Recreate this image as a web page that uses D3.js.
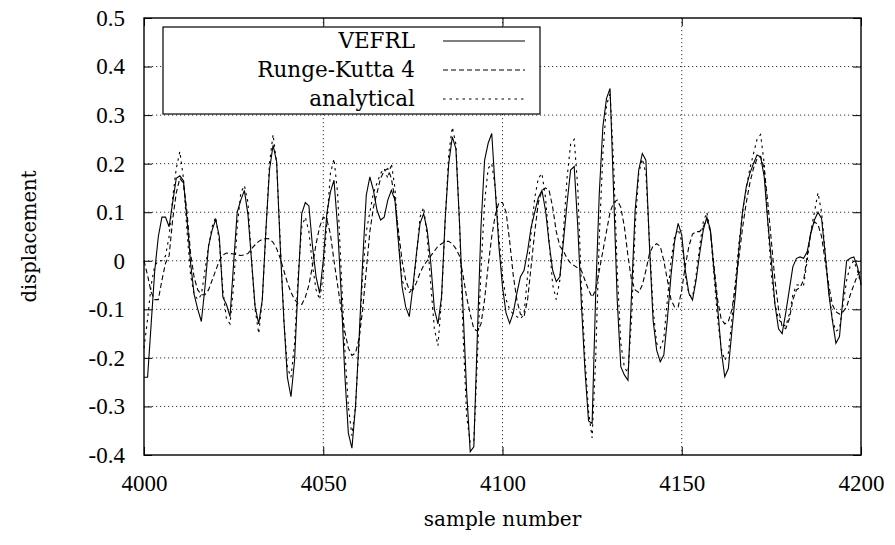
<!DOCTYPE html>
<html>
<head>
<meta charset="utf-8">
<script src="https://cdn.jsdelivr.net/npm/d3@7"></script>
<style>
  body { margin: 0; background: #fff; }
  svg { display: block; }
  .line { fill: none; stroke: #000; stroke-width: 1.1; }
  .grid line { stroke: #000; stroke-width: 0.8; stroke-dasharray: 1.2, 2.8; }
  .axis path { display: none; }
  .axis line { stroke: #000; stroke-width: 1; }
  .tick-font { font-family: "Liberation Serif", serif; font-size: 23px; }
  .label-font { font-family: "DejaVu Serif", serif; }
</style>
</head>
<body>
<div class="container"></div>
<script>
// sample numbers run from 4000, one value per sample
const START = 4000;
const xTicks = [4000, 4050, 4100, 4150, 4200];
const yTicks = [-0.4, -0.3, -0.2, -0.1, 0, 0.1, 0.2, 0.3, 0.4, 0.5];
const seriesNames = ['VEFRL', 'Runge-Kutta 4', 'analytical'];

const vefrl = [
  -0.24, -0.24, -0.13, -0.02, 0.05, 0.09, 0.09, 0.07, 0.12, 0.17,
  0.175, 0.165, 0.085, -0.005, -0.07, -0.1, -0.125, -0.055, 0.03, 0.063,
  0.085, 0.05, -0.075, -0.09, -0.115, -0.005, 0.1, 0.125, 0.145, 0.095,
  0.0, -0.095, -0.13, -0.08, 0.063, 0.187, 0.238, 0.204, 0.03, -0.12,
  -0.24, -0.28, -0.205, -0.047, 0.097, 0.12, 0.113, 0.03, -0.033, -0.067,
  0.0, 0.097, 0.142, 0.166, 0.07, -0.067, -0.232, -0.355, -0.386, -0.3,
  -0.16, 0.0, 0.135, 0.173, 0.145, 0.104, 0.084, 0.09, 0.125, 0.145,
  0.125, 0.036, -0.054, -0.095, -0.115, -0.054, 0.015, 0.077, 0.097, 0.063,
  -0.005, -0.1, -0.13, -0.074, 0.084, 0.2, 0.255, 0.231, 0.08, -0.1,
  -0.27, -0.393, -0.383, -0.15, 0.07, 0.207, 0.242, 0.262, 0.145, 0.03,
  -0.054, -0.108, -0.129, -0.108, -0.067, -0.033, -0.02, 0.02, 0.07, 0.1,
  0.13, 0.145, 0.104, 0.036, -0.02, -0.043, -0.033, 0.04, 0.118, 0.187,
  0.194, 0.07, -0.088, -0.225, -0.33, -0.335, -0.067, 0.139, 0.276, 0.334,
  0.355, 0.139, -0.081, -0.218, -0.235, -0.246, -0.067, 0.104, 0.187, 0.221,
  0.207, 0.03, -0.122, -0.184, -0.208, -0.194, -0.12, -0.03, 0.04, 0.077,
  0.053, -0.02, -0.067, -0.081, -0.04, 0.015, 0.063, 0.09, 0.063, -0.02,
  -0.095, -0.184, -0.239, -0.222, -0.143, -0.067, 0.029, 0.104, 0.152, 0.18,
  0.2, 0.218, 0.214, 0.173, 0.08, 0.0, -0.09, -0.14, -0.15, -0.108,
  -0.06, -0.012, 0.005, 0.008, 0.005, 0.019, 0.056, 0.084, 0.1, 0.087,
  0.015, -0.067, -0.122, -0.17, -0.156, -0.074, 0.0, 0.005, 0.008, -0.012,
  -0.047
];

const rk4 = [
  0.0, -0.03, -0.065, -0.08, -0.08, -0.04, -0.005, 0.01, 0.085, 0.14,
  0.17, 0.16, 0.1, 0.015, -0.035, -0.06, -0.07, -0.07, -0.06, -0.04,
  -0.02, 0.0, 0.012, 0.016, 0.015, 0.014, 0.012, 0.011, 0.012, 0.015,
  0.025, 0.033, 0.04, 0.044, 0.046, 0.045, 0.038, 0.025, 0.005, -0.02,
  -0.045, -0.065, -0.08, -0.088, -0.09, -0.075, -0.05, -0.01, 0.035, 0.07,
  0.09, 0.085, 0.055, 0.0, -0.05, -0.1, -0.145, -0.18, -0.195, -0.19,
  -0.16, -0.1, -0.02, 0.06, 0.11, 0.14, 0.17, 0.185, 0.19, 0.17,
  0.125, 0.06, 0.0, -0.04, -0.06, -0.06, -0.045, -0.025, -0.01, 0.0,
  0.01, 0.02, 0.03, 0.035, 0.04, 0.04, 0.035, 0.025, 0.01, -0.03,
  -0.075, -0.11, -0.14, -0.145, -0.13, -0.08, -0.01, 0.05, 0.095, 0.12,
  0.12, 0.1, 0.04, -0.03, -0.08, -0.11, -0.115, -0.08, -0.01, 0.06,
  0.12, 0.145, 0.15, 0.145, 0.11, 0.06, 0.03, 0.02, 0.005, -0.005,
  -0.01, -0.015, -0.02, -0.04, -0.06, -0.075, -0.06, -0.02, 0.02, 0.06,
  0.1, 0.12, 0.125, 0.11, 0.07, 0.01, -0.04, -0.06, -0.065, -0.05,
  -0.02, 0.015, 0.03, 0.035, 0.03, 0.0, -0.04, -0.08, -0.095, -0.095,
  -0.06, -0.01, 0.03, 0.055, 0.06, 0.06, 0.07, 0.085, 0.06, -0.01,
  -0.08, -0.12, -0.13, -0.125, -0.1, -0.05, 0.01, 0.07, 0.12, 0.16,
  0.19, 0.21, 0.215, 0.19, 0.12, 0.04, -0.04, -0.1, -0.135, -0.14,
  -0.12, -0.08, -0.06, -0.055, -0.04, 0.01, 0.06, 0.08, 0.075, 0.05,
  0.0, -0.05, -0.09, -0.105, -0.11, -0.105, -0.095, -0.07, -0.05, -0.03,
  -0.02
];

const analytical = [
  -0.18, -0.12, -0.05, -0.01, 0.0, 0.0, 0.01, 0.05, 0.13, 0.19,
  0.225, 0.17, 0.06, -0.03, -0.07, -0.08, -0.07, -0.02, 0.03, 0.07,
  0.09, 0.04, -0.06, -0.12, -0.13, -0.05, 0.07, 0.14, 0.155, 0.12,
  0.0, -0.1, -0.15, -0.08, 0.06, 0.2, 0.26, 0.2, 0.04, -0.12,
  -0.22, -0.24, -0.17, -0.03, 0.07, 0.09, 0.06, -0.01, -0.06, -0.08,
  -0.03, 0.08, 0.18, 0.21, 0.14, -0.02, -0.18, -0.3, -0.36, -0.3,
  -0.17, -0.03, 0.06, 0.1, 0.14, 0.16, 0.18, 0.19, 0.17, 0.2,
  0.15, 0.04, -0.04, -0.06, -0.065, -0.06, 0.01, 0.09, 0.11, 0.05,
  -0.05, -0.14, -0.175, -0.08, 0.08, 0.22, 0.275, 0.24, 0.08, -0.15,
  -0.32, -0.375, -0.37, -0.2, -0.02, 0.12, 0.19, 0.2, 0.15, 0.05,
  -0.03, -0.08, -0.1, -0.11, -0.115, -0.12, -0.11, -0.03, 0.06, 0.13,
  0.17, 0.18, 0.13, 0.04, -0.05, -0.08, -0.04, 0.06, 0.17, 0.24,
  0.25, 0.15, -0.05, -0.2, -0.31, -0.365, -0.2, 0.05, 0.22, 0.32,
  0.345, 0.2, -0.02, -0.17, -0.22, -0.23, -0.12, 0.07, 0.18, 0.21,
  0.18, 0.04, -0.1, -0.17, -0.18, -0.16, -0.08, 0.0, 0.05, 0.065,
  0.04, -0.03, -0.07, -0.075, -0.03, 0.03, 0.08, 0.1, 0.06, -0.03,
  -0.12, -0.18, -0.205, -0.19, -0.12, -0.04, 0.04, 0.1, 0.15, 0.19,
  0.22, 0.25, 0.26, 0.2, 0.08, -0.03, -0.09, -0.12, -0.13, -0.135,
  -0.11, -0.07, -0.05, -0.05, -0.05, 0.0, 0.06, 0.1, 0.14, 0.1,
  0.02, -0.06, -0.12, -0.145, -0.14, -0.09, -0.04, -0.01, 0.0, -0.02,
  -0.05
];

let translate = (x, y) => (`translate(${x}, ${y})`);

const WIDTH = 895;
const HEIGHT = 545;
const MARGIN = {top: 18, right: 34, bottom: 90, left: 144};
const INNER_WIDTH = WIDTH - MARGIN.left - MARGIN.right;
const INNER_HEIGHT = HEIGHT - MARGIN.top - MARGIN.bottom;
const TICK = 8;

let xScale = d3.scaleLinear()
    .domain([4000, 4200])
    .range([0, INNER_WIDTH]);

let yScale = d3.scaleLinear()
    .domain([-0.4, 0.5])
    .range([INNER_HEIGHT, 0]);

let svg = d3.select('.container').append('svg')
    .attr('width', WIDTH)
    .attr('height', HEIGHT);

let g = svg.append('g')
    .attr('transform', translate(MARGIN.left, MARGIN.top));

// grid
let grid = g.append('g').attr('class', 'grid');
grid.selectAll('.gx')
    .data(xTicks.slice(1, -1))
    .enter().append('line')
    .attr('x1', d => xScale(d)).attr('x2', d => xScale(d))
    .attr('y1', 0).attr('y2', INNER_HEIGHT);
grid.selectAll('.gy')
    .data(yTicks.slice(1, -1))
    .enter().append('line')
    .attr('x1', 0).attr('x2', INNER_WIDTH)
    .attr('y1', d => yScale(d)).attr('y2', d => yScale(d));

// axes: inward ticks, mirrored on top and right
let fmtY = d => d === 0 ? '0' : d3.format('.1f')(d).replace('\u2212', '-');

let xAxis = g.append('g').attr('class', 'axis')
    .attr('transform', translate(0, INNER_HEIGHT))
    .call(d3.axisBottom(xScale).tickValues(xTicks).tickSizeInner(-TICK).tickSizeOuter(0)
        .tickPadding(20).tickFormat(d3.format('d')));
xAxis.selectAll('text').attr('class', 'tick-font').attr('fill', '#000');

g.append('g').attr('class', 'axis')
    .call(d3.axisTop(xScale).tickValues(xTicks).tickSizeInner(-TICK).tickSizeOuter(0).tickFormat(''));

let yAxis = g.append('g').attr('class', 'axis')
    .call(d3.axisLeft(yScale).tickValues(yTicks).tickSizeInner(-TICK).tickSizeOuter(0)
        .tickPadding(19).tickFormat(fmtY));
yAxis.selectAll('text').attr('class', 'tick-font').attr('fill', '#000');

g.append('g').attr('class', 'axis')
    .attr('transform', translate(INNER_WIDTH, 0))
    .call(d3.axisRight(yScale).tickValues(yTicks).tickSizeInner(-TICK).tickSizeOuter(0).tickFormat(''));

// data lines
let line = d3.line()
    .x((d, i) => xScale(START + i))
    .y(d => yScale(d));

let series = [
    {name: seriesNames[0], values: vefrl, dash: null},
    {name: seriesNames[1], values: rk4, dash: '5,3'},
    {name: seriesNames[2], values: analytical, dash: '2.5,4'}
];

series.forEach(s => {
    g.append('path')
        .attr('d', line(s.values))
        .classed('line', true)
        .attr('stroke-dasharray', s.dash);
});

// frame
g.append('rect')
    .attr('width', INNER_WIDTH)
    .attr('height', INNER_HEIGHT)
    .attr('fill', 'none')
    .attr('stroke', '#000')
    .attr('stroke-width', 1.4);

// legend
let key = svg.append('g').attr('transform', translate(163, 27));
key.append('rect')
    .attr('width', 377)
    .attr('height', 87)
    .attr('fill', '#fff')
    .attr('stroke', '#000')
    .attr('stroke-width', 1.2);

series.forEach((s, i) => {
    let cy = 14 + i * 29;
    key.append('text')
        .attr('x', 252)
        .attr('y', cy + 7)
        .attr('text-anchor', 'end')
        .attr('class', 'label-font')
        .attr('font-size', 21.5)
        .text(s.name);
    key.append('line')
        .attr('x1', 280).attr('x2', 362)
        .attr('y1', cy).attr('y2', cy)
        .classed('line', true)
        .attr('stroke-dasharray', s.dash);
});

// axis titles
svg.append('text')
    .attr('x', MARGIN.left + INNER_WIDTH / 2)
    .attr('y', 526)
    .attr('text-anchor', 'middle')
    .attr('class', 'label-font')
    .attr('font-size', 20)
    .text('sample number');

svg.append('text')
    .attr('transform', translate(36, MARGIN.top + INNER_HEIGHT / 2) + ' rotate(-90)')
    .attr('text-anchor', 'middle')
    .attr('class', 'label-font')
    .attr('font-size', 19.5)
    .text('displacement');
</script>
</body>
</html>
